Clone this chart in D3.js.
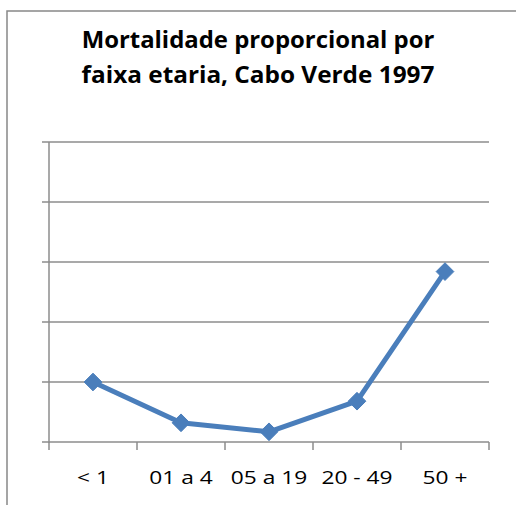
<!DOCTYPE html>
<html><head><meta charset="utf-8">
<script src="https://cdn.jsdelivr.net/npm/d3@7"></script>
<style>body{margin:0;background:#fff;}svg{display:block;}</style>
</head><body>
<svg id="c" width="516" height="505"></svg>
<script>
const categories = ["< 1", "01 a 4", "05 a 19", "20 - 49", "50 +"];
const values = [1.0, 0.32, 0.17, 0.68, 2.84];
const yTicks = [0, 1, 2, 3, 4, 5];
const titleLines = ["Mortalidade proporcional por", "faixa etaria, Cabo Verde 1997"];

const svg = d3.select("#c");
const font = "'Open Sans', Lato, sans-serif";
// outer chart border
svg.append("rect").attr("x", 7).attr("y", 11).attr("width", 540).attr("height", 540)
  .attr("fill", "none").attr("stroke", "#888").attr("stroke-width", 1.5);

const L = 49, R = 489, T = 142, B = 442;
const x = d3.scaleBand().domain(categories).range([L, R]);
const y = d3.scaleLinear().domain([0, 5]).range([B, T]);

// gridlines + y ticks
svg.append("g").selectAll("line").data(yTicks).join("line")
  .attr("x1", L - 7).attr("x2", R).attr("y1", d => y(d)).attr("y2", d => y(d))
  .attr("stroke", "#8c8c8c").attr("stroke-width", 1.5);
// y axis line
svg.append("line").attr("x1", L).attr("x2", L).attr("y1", T).attr("y2", B + 1)
  .attr("stroke", "#8c8c8c").attr("stroke-width", 1.5);
// x ticks at band boundaries
const bounds = categories.map(c => x(c)).concat([R]);
svg.append("g").selectAll("line").data(bounds).join("line")
  .attr("x1", d => d).attr("x2", d => d).attr("y1", B).attr("y2", B + 8)
  .attr("stroke", "#8c8c8c").attr("stroke-width", 1.5);
// x labels (horizontally widened like the reference's font)
svg.append("g").selectAll("text").data(categories).join("text")
  .attr("transform", d => `translate(${x(d) + x.bandwidth() / 2},484) scale(1.3,1)`)
  .attr("text-anchor", "middle").attr("font-family", font).attr("font-size", 17.5)
  .attr("fill", "#000").text(d => d);

// line
const cx = (d, i) => x(categories[i]) + x.bandwidth() / 2;
svg.append("path").datum(values)
  .attr("d", d3.line().x(cx).y(d => y(d)))
  .attr("fill", "none").attr("stroke", "#4a7ebb").attr("stroke-width", 5)
  .attr("stroke-linejoin", "round");
svg.append("g").selectAll("path").data(values).join("path")
  .attr("transform", (d, i) => `translate(${cx(d, i)},${y(d)})`)
  .attr("d", d3.symbol().type(d3.symbolDiamond2).size(200))
  .attr("fill", "#4a7ebb").attr("stroke", "#4a7ebb").attr("stroke-width", 1);

// title
const titleWidth = 353;
svg.append("g").selectAll("text").data(titleLines).join("text")
  .attr("font-family", font).attr("font-weight", "bold")
  .attr("font-size", 23).attr("fill", "#000").attr("text-anchor", "middle")
  .text(d => d)
  .each(function(d, i) {
    const w = this.getComputedTextLength();
    const sx = titleWidth / w;
    d3.select(this).attr("transform", `translate(258,${48 + i * 35}) scale(${sx},1)`);
  });
</script>
</body></html>
